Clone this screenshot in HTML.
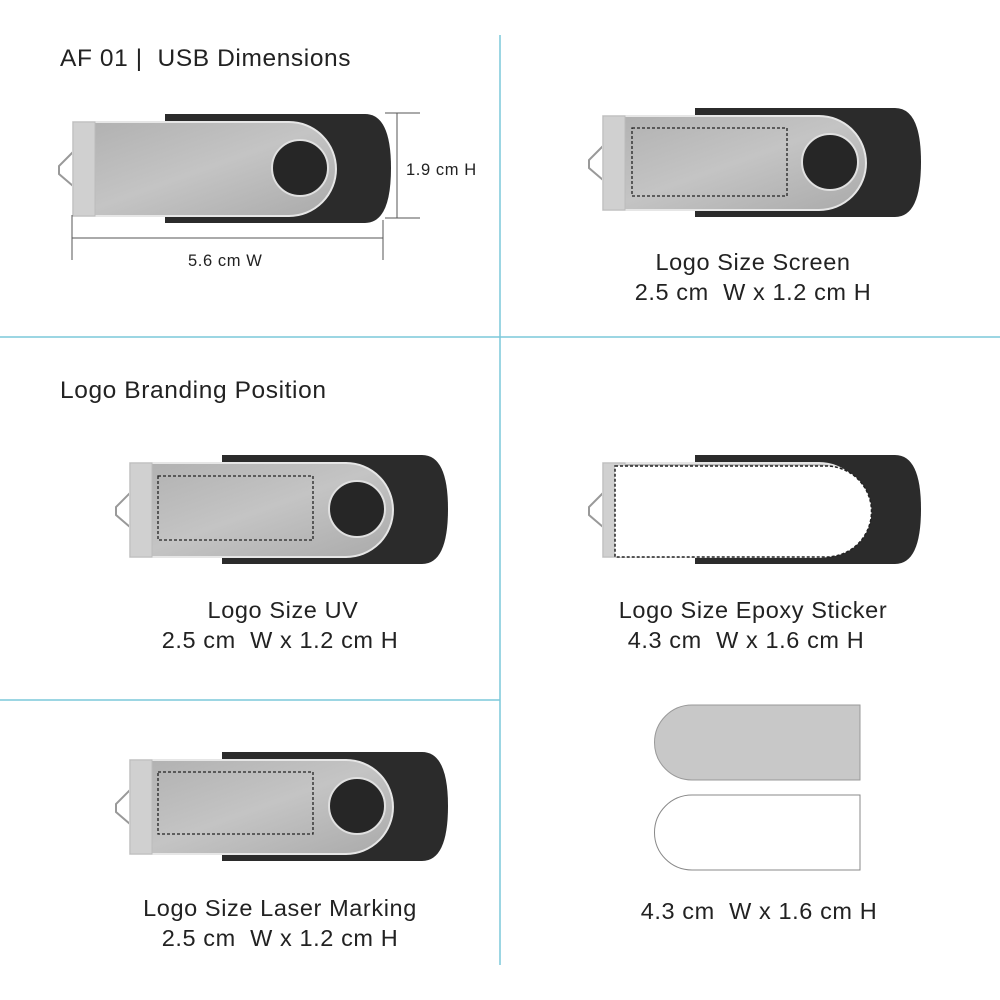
<!DOCTYPE html>
<html><head><style>
body{margin:0;background:#fff;}
svg{display:block;}
text{font-family:"Liberation Sans",Arial,sans-serif;fill:#222;white-space:pre;letter-spacing:0.6px;}
</style></head><body>
<svg width="1000" height="1000" viewBox="0 0 1000 1000" xml:space="preserve">
<defs>
<linearGradient id="mg" x1="0" y1="0" x2="1" y2="1">
<stop offset="0" stop-color="#b0b0b0"/><stop offset="0.5" stop-color="#c4c4c4"/><stop offset="1" stop-color="#aaaaaa"/></linearGradient>
<g id="usb">
<path d="M0,30 L-14,44 L-14,52 L0,64 Z" fill="#fff" stroke="#999" stroke-width="2"/>
<path d="M92,-8 H292 Q318,-8 318,46 Q318,101 292,101 H92 Z" fill="#2b2b2b"/>
<path d="M0,0 H216 A47,47 0 0 1 216,94 H0 Z" fill="url(#mg)" stroke="#e6e6e6" stroke-width="2"/>
<rect x="0" y="0" width="22" height="94" fill="#d0d0d0" stroke="#bbb"/>
<circle cx="227" cy="46" r="28" fill="#262626" stroke="#e0e0e0" stroke-width="2"/>
</g>
</defs>
<g stroke="#7cc8da" stroke-width="1.5">
<line x1="500" y1="35" x2="500" y2="965"/>
<line x1="0" y1="337" x2="1000" y2="337"/>
<line x1="0" y1="700" x2="500" y2="700"/>
</g>
<text x="60" y="66" font-size="24.5">AF 01 |  USB Dimensions</text>
<text x="60" y="398" font-size="24.5">Logo Branding Position</text>
<use href="#usb" x="73" y="122"/>
<g stroke="#555" stroke-width="1" fill="none">
<line x1="385" y1="113" x2="420" y2="113"/><line x1="385" y1="218" x2="420" y2="218"/>
<line x1="397" y1="113" x2="397" y2="218"/>
<line x1="72" y1="215" x2="72" y2="260"/><line x1="383" y1="220" x2="383" y2="260"/>
<line x1="72" y1="238" x2="383" y2="238"/>
</g>
<text x="406" y="175" font-size="16.5">1.9 cm H</text>
<text x="188" y="266" font-size="16.5">5.6 cm W</text>
<use href="#usb" x="603" y="116"/>
<rect x="632" y="128" width="155" height="68" fill="none" stroke="#222" stroke-dasharray="3,2" stroke-width="1.3"/>
<use href="#usb" x="130" y="463"/>
<rect x="158" y="476" width="155" height="64" fill="none" stroke="#222" stroke-dasharray="3,2" stroke-width="1.3"/>
<use href="#usb" x="603" y="463"/>
<path d="M615,466 H826 A45.5,45.5 0 0 1 826,557 H615 Z" fill="#fff" stroke="#222" stroke-dasharray="3,2" stroke-width="1.5"/>
<use href="#usb" x="130" y="760"/>
<rect x="158" y="772" width="155" height="62" fill="none" stroke="#222" stroke-dasharray="3,2" stroke-width="1.3"/>
<path d="M860,705 V780 H692 A37,37 0 0 1 692,705 Z" fill="#c8c8c8" stroke="#999"/>
<path d="M860,795 V870 H692 A37,37 0 0 1 692,795 Z" fill="#fff" stroke="#888"/>
<g font-size="23.5" text-anchor="middle">
<text x="753" y="270">Logo Size Screen</text>
<text x="753" y="300">2.5 cm  W x 1.2 cm H</text>
<text x="283" y="618">Logo Size UV</text>
<text x="280" y="648">2.5 cm  W x 1.2 cm H</text>
<text x="753" y="618">Logo Size Epoxy Sticker</text>
<text x="746" y="648">4.3 cm  W x 1.6 cm H</text>
<text x="280" y="916">Logo Size Laser Marking</text>
<text x="280" y="946">2.5 cm  W x 1.2 cm H</text>
<text x="759" y="919">4.3 cm  W x 1.6 cm H</text>
</g>
</svg>
</body></html>
